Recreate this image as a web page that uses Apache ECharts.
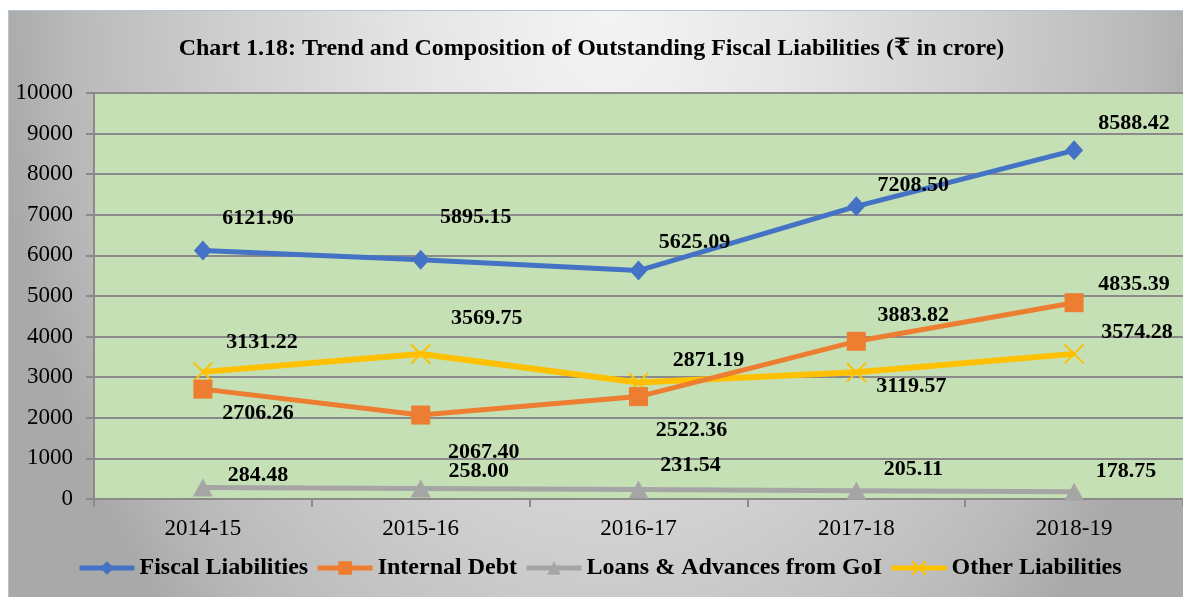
<!DOCTYPE html>
<html>
<head>
<meta charset="utf-8">
<script src="https://cdn.jsdelivr.net/npm/echarts@6/dist/echarts.min.js"></script>
<style>
html,body{margin:0;padding:0;background:#fff;width:1183px;height:597px;overflow:hidden;}
#bg{position:absolute;left:8px;top:10px;width:1175px;height:587px;box-sizing:border-box;border-top:1px solid #b4c4d8;border-left:1px solid #b4c4d8;
background:radial-gradient(ellipse 52% 150% at 51% 0%, #f4f4f4 0%, #e6e6e6 30%, #d0d0d0 60%, #b9b9b9 88%, #a9a9a9 100%);}
#chart{position:absolute;left:0;top:0;width:1183px;height:597px;}
</style>
</head>
<body>
<div id="bg"></div>
<div id="chart"></div>
<script>
const titleText = 'Chart 1.18: Trend and Composition of Outstanding Fiscal Liabilities (\u20B9 in crore)';
const categories = ['2014-15', '2015-16', '2016-17', '2017-18', '2018-19'];
const seriesNames = ['Fiscal Liabilities', 'Internal Debt', 'Loans & Advances from GoI', 'Other Liabilities'];
const fiscalLiabilities = [6121.96, 5895.15, 5625.09, 7208.50, 8588.42];
const internalDebt = [2706.26, 2067.40, 2522.36, 3883.82, 4835.39];
const loansAdvances = [284.48, 258.00, 231.54, 205.11, 178.75];
const otherLiabilities = [3131.22, 3569.75, 2871.19, 3119.57, 3574.28];
const yTicks = {min: 0, max: 10000, interval: 1000};

// label placement (layout only)
const labelOffsets = [
  [[55,-32],[55,-42],[56,-28],[57,-21],[60,-27]],
  [[55,24],[63,37],[53,34],[57,-26],[60,-18]],
  [[55,-12],[58,-17],[52,-24],[57,-21],[52,-20]],
  [[59,-30],[66,-36],[70,-22],[55,14],[63,-22]]
];
const colors = ['#4472C4', '#ED7D31', '#A5A5A5', '#FFC000'];
const symbols = ['diamond', 'rect', 'triangle', 'path://M0,0L10,10M10,0L0,10'];
const symbolSizes = [[18,20], 19, [20,18], 19];
const FONT = "'Liberation Serif','DejaVu Serif','Times New Roman',serif";

const allData = [fiscalLiabilities, internalDebt, loansAdvances, otherLiabilities];

const series = allData.map((arr, si) => {
  const isX = si === 3;
  return {
    name: seriesNames[si],
    type: 'line',
    data: arr.map((v, i) => ({
      value: v,
      label: {offset: labelOffsets[si][i]}
    })),
    symbol: symbols[si],
    symbolSize: symbolSizes[si],
    showAllSymbol: true,
    lineStyle: {color: colors[si], width: si === 3 ? 6 : 5},
    itemStyle: isX ? {color: 'rgba(0,0,0,0)', borderColor: colors[si], borderWidth: 2} : {color: colors[si], borderWidth: 0},
    label: {
      show: true,
      position: 'inside',
      formatter: p => p.value.toFixed(2),
      color: '#000',
      fontFamily: FONT,
      fontWeight: 'bold',
      fontSize: 22
    },
    emphasis: {disabled: true},
    z: 2 + (3 - si)
  };
});

const chart = echarts.init(document.getElementById('chart'), null, {renderer: 'canvas'});
chart.setOption({
  animation: false,
  title: {
    text: titleText,
    left: 'center',
    top: 32,
    textStyle: {fontFamily: FONT, fontWeight: 'bold', fontSize: 24, color: '#000'}
  },
  legend: {
    data: seriesNames.map((n, i) => ({name: n, itemStyle: i === 3 ? {color: 'rgba(0,0,0,0)', borderColor: colors[3], borderWidth: 2} : {color: colors[i]}})),
    left: 72,
    top: 551,
    itemWidth: 55,
    itemHeight: 17,
    itemGap: 7,
    lineStyle: {width: 5},
    textStyle: {fontFamily: FONT, fontWeight: 'bold', fontSize: 24, color: '#000'}
  },
  grid: {
    left: 94, top: 93, width: 1090, height: 406,
    show: true, backgroundColor: '#C5E0B4', borderWidth: 0
  },
  xAxis: {
    type: 'category',
    data: categories,
    boundaryGap: true,
    axisLine: {show: true, lineStyle: {color: '#8a8a8a', width: 2}},
    axisTick: {show: true, length: 8, lineStyle: {color: '#8a8a8a', width: 2}},
    axisLabel: {fontFamily: FONT, fontSize: 23, color: '#000', margin: 18}
  },
  yAxis: {
    type: 'value',
    min: yTicks.min, max: yTicks.max, interval: yTicks.interval,
    axisLine: {show: true, lineStyle: {color: '#8a8a8a', width: 2}},
    axisTick: {show: true, length: 8, lineStyle: {color: '#8a8a8a', width: 2}},
    axisLabel: {fontFamily: FONT, fontSize: 23, color: '#000', margin: 21, formatter: v => String(v)},
    splitLine: {show: true, lineStyle: {color: '#8a8a8a', width: 2}}
  },
  series: series
});
</script>
</body>
</html>
